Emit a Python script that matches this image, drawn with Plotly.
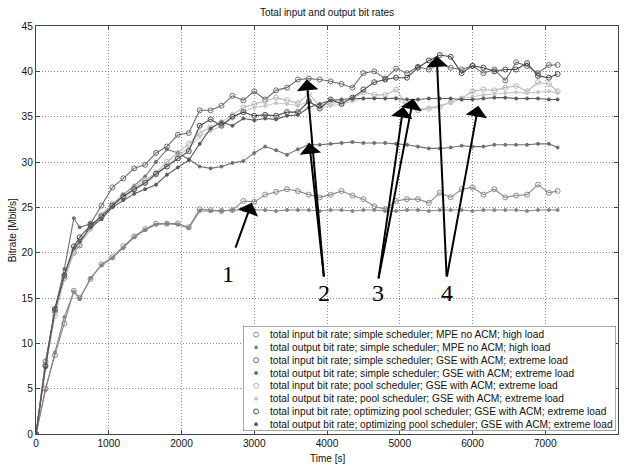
import plotly.graph_objects as go

# ---------------- data ----------------
time_s = [0, 130, 260, 390, 520, 600, 750, 900, 1050, 1200, 1350, 1500, 1650, 1800, 1950,
          2100, 2250, 2400, 2550, 2700, 2850, 3000, 3150, 3300, 3450, 3600, 3750, 3900,
          4050, 4200, 4350, 4500, 4650, 4800, 4950, 5100, 5250, 5400, 5550, 5700, 5850,
          6000, 6150, 6300, 6450, 6600, 6750, 6900, 7050, 7170]

in_simple_mpe = [0, 5.0, 8.7, 12.2, 15.8, 15.0, 17.1, 18.7, 19.5, 20.7, 21.8, 22.6, 23.2, 23.2, 23.2,
                 22.8, 24.8, 24.7, 24.6, 24.7, 25.7, 25.6, 26.4, 26.7, 27.0, 26.8, 26.4, 26.1,
                 26.4, 26.8, 26.3, 25.9, 25.1, 24.8, 25.7, 25.9, 25.9, 25.5, 26.6, 26.1, 27.0,
                 27.2, 26.4, 27.0, 26.1, 26.3, 26.4, 27.5, 26.6, 26.8]
out_simple_mpe = [0, 4.8, 9.0, 12.9, 15.7, 14.9, 17.2, 18.6, 19.4, 20.5, 21.7, 22.5, 23.1, 23.2, 23.1,
                  22.7, 24.6, 24.6, 24.6, 24.7, 24.7, 24.7, 24.7, 24.6, 24.7, 24.7, 24.7, 24.6,
                  24.7, 24.7, 24.6, 24.7, 24.7, 24.6, 24.6, 24.7, 24.7, 24.6, 24.7, 24.7, 24.7,
                  24.6, 24.7, 24.7, 24.7, 24.7, 24.6, 24.7, 24.7, 24.7]
in_simple_gse = [0, 8.0, 13.5, 17.2, 20.0, 20.8, 23.2, 25.2, 27.2, 28.2, 29.3, 29.7, 31.0, 31.7, 33.0,
                 33.2, 35.7, 35.7, 36.2, 37.3, 36.8, 37.8, 36.9, 37.9, 38.2, 39.1, 39.2, 39.1,
                 38.9, 38.6, 38.2, 39.8, 40.0, 39.2, 40.3, 39.8, 40.5, 40.2, 40.8, 40.4, 40.2,
                 40.6, 39.8, 40.2, 39.0, 41.0, 40.6, 39.8, 40.7, 40.7]
out_simple_gse = [0, 7.8, 13.8, 18.2, 23.8, 22.8, 23.2, 23.7, 25.2, 26.4, 27.4, 28.4, 30.0, 31.4, 31.0,
                  30.3, 29.5, 29.3, 29.5, 29.9, 30.1, 31.0, 31.7, 31.3, 30.8, 31.4, 31.9, 31.9,
                  32.0, 32.1, 32.2, 32.1, 32.1, 32.1, 32.0, 31.9, 31.7, 31.5, 31.5, 31.6, 31.8,
                  31.7, 31.7, 31.9, 31.9, 31.9, 31.9, 32.0, 32.0, 31.6]
in_pool = [0, 7.6, 13.0, 17.2, 20.2, 21.4, 22.7, 24.2, 25.4, 26.4, 27.2, 28.0, 28.8, 30.0, 31.0,
           32.0, 33.2, 33.8, 34.4, 35.2, 36.0, 36.4, 36.7, 37.1, 36.8, 36.5, 37.5, 36.2,
           36.5, 36.6, 37.0, 37.7, 37.4, 37.4, 38.0, 36.2, 35.7, 35.9, 36.1, 36.6, 37.0,
           37.8, 38.0, 37.9, 38.2, 38.4, 37.8, 38.8, 38.6, 37.8]
out_pool = [0, 7.4, 13.2, 17.0, 20.0, 21.0, 22.5, 23.9, 25.1, 26.0, 26.9, 27.6, 28.5, 29.6, 30.6,
            31.6, 32.8, 33.4, 34.0, 34.8, 35.6, 36.0, 36.2, 36.5, 36.4, 36.2, 36.7, 36.0,
            36.2, 36.4, 36.7, 37.0, 37.1, 37.0, 37.1, 36.2, 35.8, 36.0, 36.2, 36.6, 37.0,
            37.2, 37.4, 37.5, 37.6, 37.7, 37.6, 37.7, 37.8, 37.6]
in_opt_pool = [0, 7.5, 13.8, 17.5, 20.7, 21.7, 23.0, 24.0, 25.2, 26.2, 27.0, 27.7, 28.7, 29.5, 30.4,
               31.2, 34.0, 34.7, 34.0, 35.0, 35.5, 35.1, 35.2, 35.1, 35.5, 35.5, 36.7, 35.9,
               36.9, 36.4, 37.1, 38.0, 38.8, 39.1, 39.3, 39.3, 40.4, 41.2, 41.8, 41.6, 39.8,
               40.6, 40.4, 40.0, 40.2, 40.2, 40.9, 39.5, 39.3, 39.7]
out_opt_pool = [0, 7.3, 13.6, 17.6, 20.5, 21.2, 22.8, 23.7, 25.0, 25.8, 26.5, 27.0, 27.5, 28.6, 29.4,
                30.2, 32.0, 33.7, 34.4, 34.0, 34.8, 34.6, 34.8, 34.7, 35.1, 35.2, 36.0, 36.4,
                36.8, 36.9, 37.0, 37.0, 37.0, 37.0, 37.0, 36.9, 36.9, 37.0, 37.0, 37.0, 36.9,
                36.9, 37.0, 37.1, 37.1, 37.0, 37.0, 37.0, 36.9, 36.9]

series_names = [
    "total input bit rate; simple scheduler; MPE no ACM; high load",
    "total output bit rate; simple scheduler; MPE no ACM; high load",
    "total input bit rate; simple scheduler; GSE with ACM; extreme load",
    "total output bit rate; simple scheduler; GSE with ACM; extreme load",
    "total input bit rate; pool scheduler; GSE with ACM; extreme load",
    "total output bit rate; pool scheduler; GSE with ACM; extreme load",
    "total input bit rate; optimizing pool scheduler; GSE with ACM; extreme load",
    "total output bit rate; optimizing pool scheduler; GSE with ACM; extreme load",
]
series_values = [in_simple_mpe, out_simple_mpe, in_simple_gse, out_simple_gse,
                 in_pool, out_pool, in_opt_pool, out_opt_pool]

x_ticks = [0, 1000, 2000, 3000, 4000, 5000, 6000, 7000, 8000]
y_ticks = [0, 5, 10, 15, 20, 25, 30, 35, 40, 45]

# annotation arrows: label, text position, tail, list of tips (data units)
arrow_groups = [
    ("1", (2643, 17.6), (2735, 20.4), [(2965, 25.5)]),
    ("2", (3959, 15.6), (3959, 17.2), [(3721, 39.1), (3757, 32.1)]),
    ("3", (4705, 15.6), (4705, 17.0), [(5049, 36.1), (5186, 37.0)]),
    ("4", (5645, 15.6), (5645, 17.2), [(5508, 41.7), (6080, 36.2)]),
]

# ---------------- styles ----------------
colors = ["#8a8a8a", "#858585", "#6c6c6c", "#707070", "#b8b8b8", "#c6c6c6", "#4a4a4a", "#5a5a5a"]
is_input = [True, False, True, False, True, False, True, False]
FONT = "Liberation Sans, Arial, Helvetica, sans-serif"

fig = go.Figure()

for name, vals, col, inp in zip(series_names, series_values, colors, is_input):
    fig.add_trace(go.Scatter(
        x=time_s, y=vals, mode="lines+markers", name=name, showlegend=False,
        line=dict(color=col, width=1.1),
        marker=dict(symbol="circle-open" if inp else "circle", size=5 if inp else 3,
                    color=col, line=dict(width=1, color=col)),
        xaxis="x", yaxis="y"))

# ---- manual legend (compact, MATLAB style) on an invisible overlay axis ----
n = len(series_names)
fig.add_trace(go.Scatter(
    x=[0, 1, 1, 0, 0], y=[0.33, 0.33, n + 0.52, n + 0.52, 0.33], mode="lines",
    fill="toself", fillcolor="white", line=dict(color="#555555", width=1),
    showlegend=False, hoverinfo="skip", xaxis="x2", yaxis="y2"))
for i, (col, inp) in enumerate(zip(colors, is_input)):
    fig.add_trace(go.Scatter(
        x=[0.035], y=[i + 1], mode="markers", showlegend=False, hoverinfo="skip",
        marker=dict(symbol="circle-open" if inp else "circle", size=5 if inp else 3,
                    color=col, line=dict(width=1, color=col)),
        xaxis="x2", yaxis="y2"))

annotations = []
for i, name in enumerate(series_names):
    annotations.append(dict(
        x=0.066, y=i + 1, xref="x2", yref="y2", text=name, showarrow=False,
        xanchor="left", yanchor="middle", font=dict(family=FONT, size=10.2, color="#111111")))

for label, tpos, tail, tips in arrow_groups:
    for tip in tips:
        annotations.append(dict(
            x=tip[0], y=tip[1], ax=tail[0], ay=tail[1], xref="x", yref="y",
            axref="x", ayref="y", text="", showarrow=True, arrowhead=1,
            arrowsize=1.8, arrowwidth=2, arrowcolor="black", standoff=0, startstandoff=0))
    annotations.append(dict(
        x=tpos[0], y=tpos[1], xref="x", yref="y", text=label, showarrow=False,
        xanchor="center", yanchor="middle",
        font=dict(family="Liberation Serif, Times New Roman, serif", size=24, color="black")))

# axis labels
annotations.append(dict(x=0.5, y=-0.06, xref="paper", yref="paper", text="Time [s]",
                        showarrow=False, xanchor="center", yanchor="middle",
                        font=dict(family=FONT, size=10, color="#111111")))
annotations.append(dict(x=-0.041, y=0.5, xref="paper", yref="paper", text="Bitrate [Mbit/s]",
                        showarrow=False, textangle=-90, xanchor="center", yanchor="middle",
                        font=dict(family=FONT, size=10, color="#111111")))

axis_common = dict(showline=True, linecolor="#444444", linewidth=1, mirror="allticks",
                   ticks="inside", ticklen=4, tickcolor="#444444",
                   showgrid=True, gridcolor="#8c8c8c", griddash="1px,2px", gridwidth=1,
                   zeroline=False, tickfont=dict(family=FONT, size=10.2, color="#111111"))

fig.update_layout(
    width=629, height=465,
    margin=dict(l=36, r=11, t=26, b=31),
    paper_bgcolor="white", plot_bgcolor="white",
    showlegend=False,
    title=dict(text="Total input and output bit rates", x=0.5, xref="paper",
               y=1 - 12 / 465, yref="container", xanchor="center", yanchor="middle",
               font=dict(family=FONT, size=10, color="#111111")),
    xaxis=dict(range=[0, 8000], tickvals=x_ticks, ticktext=[str(v) for v in x_ticks],
               domain=[0, 1], ticklabelstandoff=0, **axis_common),
    yaxis=dict(range=[0, 45], tickvals=y_ticks, ticktext=[str(v) for v in y_ticks],
               domain=[0, 1], **axis_common),
    xaxis2=dict(range=[0, 1], domain=[0.3557, 0.9966], visible=False, anchor="y2"),
    yaxis2=dict(range=[n + 0.52, 0.33], domain=[0.0074, 0.2647], visible=False, anchor="x2"),
    annotations=annotations,
)

fig.write_html("out.html")
